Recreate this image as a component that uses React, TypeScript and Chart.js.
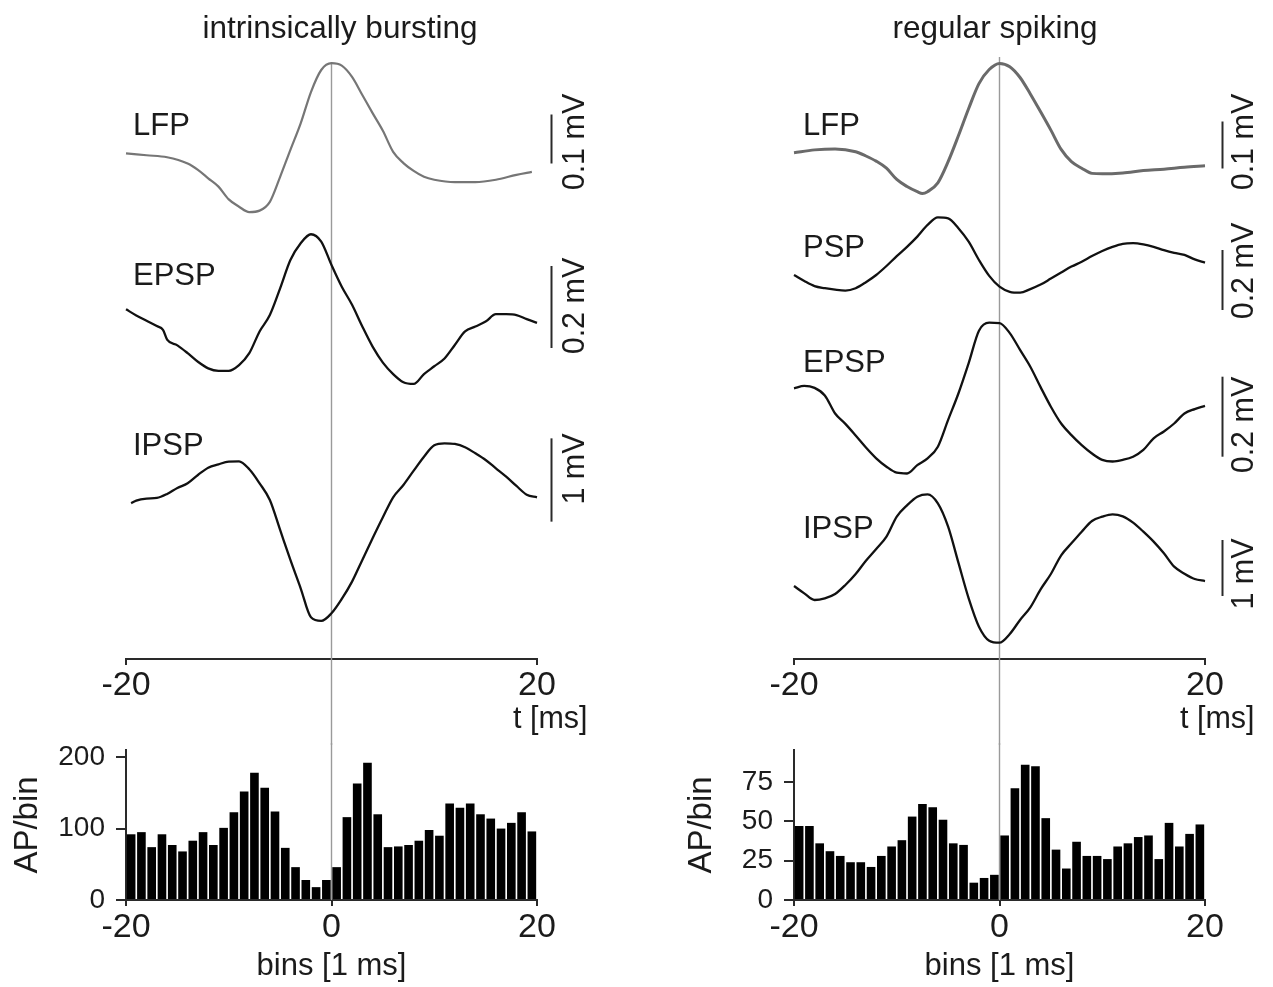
import React, { useEffect, useRef } from "react";
import { Chart, registerables } from "chart.js";

Chart.register(...registerables);

// ---------------- data ----------------
const tMs = [-20, -19, -18, -17, -16, -15, -14, -13, -12, -11, -10, -9, -8, -7, -6, -5, -4, -3, -2, -1, 0, 1, 2, 3, 4, 5, 6, 7, 8, 9, 10, 11, 12, 13, 14, 15, 16, 17, 18, 19, 20];

// intrinsically bursting
const ibLfpT = [-20, -18, -16, -14, -13, -12, -11, -10, -9, -8, -7, -6, -5, -4, -3, -2, -1, 0, 1, 2, 3, 4, 5, 6, 7, 8, 9, 10, 12, 14, 16, 18, 19.5];
const ibLfpV = [0, -0.004, -0.008, -0.021, -0.034, -0.051, -0.068, -0.094, -0.109, -0.12, -0.117, -0.099, -0.048, 0.007, 0.061, 0.125, 0.17, 0.184, 0.179, 0.156, 0.119, 0.082, 0.046, 0.003, -0.02, -0.036, -0.048, -0.054, -0.059, -0.059, -0.054, -0.044, -0.038];

const ibEpspT = [-20, -19, -18, -17, -16.4, -16, -15, -14, -13, -12, -11, -10, -9, -8, -7, -6, -5, -4, -3, -2, -1, 0, 1, 2, 3, 4, 5, 6, 7, 8, 9, 10, 11, 12, 13, 14, 15, 16, 17, 18, 19, 20];
const ibEpspV = [0, -0.015, -0.028, -0.041, -0.05, -0.074, -0.088, -0.107, -0.128, -0.144, -0.15, -0.15, -0.136, -0.107, -0.054, -0.014, 0.051, 0.12, 0.161, 0.183, 0.165, 0.108, 0.055, 0.011, -0.042, -0.091, -0.13, -0.158, -0.178, -0.182, -0.158, -0.139, -0.12, -0.087, -0.054, -0.042, -0.03, -0.012, -0.012, -0.014, -0.024, -0.033];

const ibIpspT = [-19.5, -19, -18, -17, -16, -15, -14, -13, -12, -11, -10, -9, -8, -7, -6, -5, -4, -3, -2, -1, 0, 1, 2, 3, 4, 5, 6, 7, 8, 9, 10, 11, 12, 13, 14, 15, 16, 17, 18, 19, 20];
const ibIpspV = [0, 0.032, 0.056, 0.064, 0.112, 0.184, 0.24, 0.34, 0.428, 0.468, 0.5, 0.504, 0.408, 0.24, 0.04, -0.32, -0.68, -1.02, -1.368, -1.412, -1.32, -1.148, -0.94, -0.68, -0.42, -0.168, 0.072, 0.22, 0.392, 0.56, 0.696, 0.72, 0.712, 0.672, 0.6, 0.52, 0.42, 0.32, 0.208, 0.104, 0.072];

// regular spiking
const rsLfpT = [-20, -18, -16, -14, -13, -12, -11, -10, -9, -8, -7.5, -7, -6, -5, -4, -3, -2, -1, 0, 1, 2, 3, 4, 5, 6, 7, 8, 9, 10, 12, 14, 16, 18, 20];
const rsLfpV = [0, 0.006, 0.008, 0.002, -0.007, -0.018, -0.033, -0.057, -0.072, -0.083, -0.087, -0.083, -0.064, -0.019, 0.036, 0.094, 0.147, 0.177, 0.19, 0.183, 0.16, 0.125, 0.087, 0.048, 0.007, -0.019, -0.033, -0.044, -0.045, -0.043, -0.038, -0.035, -0.031, -0.028];

const rsPspV = [0, -0.02, -0.037, -0.044, -0.049, -0.052, -0.044, -0.024, 0, 0.03, 0.063, 0.094, 0.128, 0.167, 0.192, 0.189, 0.156, 0.111, 0.05, -0.003, -0.039, -0.056, -0.059, -0.047, -0.032, -0.012, 0.008, 0.028, 0.044, 0.063, 0.08, 0.094, 0.104, 0.106, 0.102, 0.094, 0.083, 0.074, 0.067, 0.052, 0.041];

const rsEpspV = [0, 0.006, 0.001, -0.018, -0.063, -0.089, -0.118, -0.148, -0.175, -0.196, -0.211, -0.213, -0.192, -0.175, -0.146, -0.079, -0.013, 0.063, 0.144, 0.164, 0.163, 0.138, 0.096, 0.054, 0.003, -0.046, -0.088, -0.117, -0.142, -0.163, -0.179, -0.183, -0.179, -0.171, -0.154, -0.125, -0.108, -0.088, -0.063, -0.052, -0.044];

const rsIpspV = [0, -0.131, -0.25, -0.22, -0.143, 0.018, 0.214, 0.452, 0.661, 0.881, 1.238, 1.44, 1.595, 1.637, 1.476, 1.06, 0.417, -0.22, -0.726, -0.976, -1.012, -0.857, -0.607, -0.381, -0.06, 0.214, 0.548, 0.762, 0.97, 1.161, 1.238, 1.28, 1.244, 1.131, 0.97, 0.792, 0.583, 0.345, 0.22, 0.125, 0.089];

// histograms (1 ms bins)
const binCenters = [-19.5, -18.5, -17.5, -16.5, -15.5, -14.5, -13.5, -12.5, -11.5, -10.5, -9.5, -8.5, -7.5, -6.5, -5.5, -4.5, -3.5, -2.5, -1.5, -0.5, 0.5, 1.5, 2.5, 3.5, 4.5, 5.5, 6.5, 7.5, 8.5, 9.5, 10.5, 11.5, 12.5, 13.5, 14.5, 15.5, 16.5, 17.5, 18.5, 19.5];
const ibHist = [92, 95, 74, 92, 77, 68, 83, 95, 77, 101, 123, 152, 178, 157, 124, 73, 46, 28, 18, 28, 46, 116, 163, 192, 120, 74, 75, 77, 83, 98, 90, 135, 129, 135, 120, 114, 100, 108, 123, 96];
const rsHist = [47, 47, 36, 31, 28, 24, 24, 21, 28, 34, 38, 53, 61, 59, 51, 36, 35, 11, 14, 16, 41, 71, 86, 85, 52, 32, 20, 37, 28, 28, 26, 34, 36, 40, 41, 26, 49, 34, 42, 48];

// tick labels
const traceTicks = [-20, 20];
const histXTicks = [-20, 0, 20];
const ibHistYTicks = [0, 100, 200];
const rsHistYTicks = [0, 25, 50, 75];

// ---------------- layout / style ----------------
const FONT = "'Liberation Sans', Arial, Helvetica, sans-serif";
const TEXT = "#1b1b1b";
const AXIS = "#2a2a2a";
const GRAY = "#9a9a9a";
const W = 605;
const AREA_L = 126;
const AREA_R = 537;
const TRACE_TOP = 40;
const AXIS_Y = 659;
const TRACE_H = 745;
const HIST_CANVAS_TOP = 700;
const HIST_H = 987 - HIST_CANVAS_TOP;
const HIST_TOP = 750;
const HIST_BOTTOM = 900;
const XTICK_SIZE = 34;
const YTICK_SIZE = 28;

type Trace = {
  name: string; t: number[]; v: number[]; color: string; width: number;
  anchorY: number; pxPerMv: number; bar: number; barText: string;
  barCenterY: number; barTextY: number; nameY: number;
};
type Panel = {
  left: number; title: string; titleX: number; nameX: number; barX: number; barTextX: number;
  tLabelX: number; grayTop: number; apPad: number; traces: Trace[]; hist: number[]; histYTicks: number[]; histMax: number;
};

const panels: Panel[] = [
  {
    left: 0, title: "intrinsically bursting", titleX: 340, nameX: 133, barX: 551.5, barTextX: 576,
    tLabelX: 513, grayTop: 62, apPad: 8, hist: ibHist, histYTicks: ibHistYTicks, histMax: 210,
    traces: [
      { name: "LFP", t: ibLfpT, v: ibLfpV, color: "#767676", width: 2.2, anchorY: 153.3, pxPerMv: 490, bar: 0.1, barText: "0.1 mV", barCenterY: 139, barTextY: 142, nameY: 135 },
      { name: "EPSP", t: ibEpspT, v: ibEpspV, color: "#111", width: 2.3, anchorY: 309.3, pxPerMv: 410, bar: 0.2, barText: "0.2 mV", barCenterY: 307, barTextY: 306, nameY: 285 },
      { name: "IPSP", t: ibIpspT, v: ibIpspV, color: "#111", width: 2.3, anchorY: 503.3, pxPerMv: 83.3, bar: 1, barText: "1 mV", barCenterY: 480, barTextY: 469, nameY: 455 },
    ],
  },
  {
    left: 668, title: "regular spiking", titleX: 327, nameX: 135, barX: 554.5, barTextX: 577,
    tLabelX: 512, grayTop: 57, apPad: 14, hist: rsHist, histYTicks: rsHistYTicks, histMax: 95.3,
    traces: [
      { name: "LFP", t: rsLfpT, v: rsLfpV, color: "#6a6a6a", width: 3, anchorY: 152.7, pxPerMv: 470, bar: 0.1, barText: "0.1 mV", barCenterY: 145, barTextY: 142, nameY: 135 },
      { name: "PSP", t: tMs, v: rsPspV, color: "#111", width: 2.3, anchorY: 275, pxPerMv: 300, bar: 0.2, barText: "0.2 mV", barCenterY: 280, barTextY: 271, nameY: 257 },
      { name: "EPSP", t: tMs, v: rsEpspV, color: "#111", width: 2.3, anchorY: 388.3, pxPerMv: 400, bar: 0.2, barText: "0.2 mV", barCenterY: 416.7, barTextY: 425, nameY: 372 },
      { name: "IPSP", t: tMs, v: rsIpspV, color: "#111", width: 2.3, anchorY: 586, pxPerMv: 56, bar: 1, barText: "1 mV", barCenterY: 568, barTextY: 574, nameY: 538 },
    ],
  },
];

function PanelView({ p }: { p: Panel }) {
  const traceRef = useRef<HTMLCanvasElement | null>(null);
  const histRef = useRef<HTMLCanvasElement | null>(null);

  useEffect(() => {
    const scales: any = {
      x: {
        type: "linear", min: -20, max: 20, position: "bottom",
        afterFit: (s: any) => { s.height = TRACE_H - AXIS_Y; },
        afterBuildTicks: (s: any) => { s.ticks = traceTicks.map((v) => ({ value: v })); },
        grid: { drawOnChartArea: false, drawTicks: true, tickLength: 6, color: AXIS, lineWidth: 2 },
        border: { display: true, color: AXIS, width: 2 },
        ticks: { autoSkip: false, maxRotation: 0, padding: 0, color: TEXT, font: { family: FONT, size: XTICK_SIZE } },
      },
    };
    p.traces.forEach((tr, i) => {
      scales["y" + i] = {
        type: "linear", display: false,
        min: (tr.anchorY - AXIS_Y) / tr.pxPerMv,
        max: (tr.anchorY - TRACE_TOP) / tr.pxPerMv,
      };
    });

    const tracePlugin = {
      id: "traceDecor",
      beforeDatasetsDraw(chart: any) {
        const ctx = chart.ctx;
        const x0 = chart.scales.x.getPixelForValue(0);
        ctx.save();
        ctx.strokeStyle = GRAY;
        ctx.lineWidth = 1.4;
        ctx.beginPath();
        ctx.moveTo(x0, p.grayTop);
        ctx.lineTo(x0, chart.height);
        ctx.stroke();
        ctx.restore();
      },
      afterDraw(chart: any) {
        const ctx = chart.ctx;
        ctx.save();
        ctx.fillStyle = TEXT;
        ctx.font = `31.5px ${FONT}`;
        ctx.textAlign = "center";
        ctx.textBaseline = "alphabetic";
        ctx.fillText(p.title, p.titleX, 38);
        ctx.font = `31px ${FONT}`;
        ctx.textAlign = "left";
        p.traces.forEach((tr, i) => {
          ctx.fillText(tr.name, p.nameX, tr.nameY);
          const ys = chart.scales["y" + i];
          const cv = ys.getValueForPixel(tr.barCenterY);
          const yTop = ys.getPixelForValue(cv + tr.bar / 2);
          const yBot = ys.getPixelForValue(cv - tr.bar / 2);
          ctx.strokeStyle = AXIS;
          ctx.lineWidth = 2;
          ctx.beginPath();
          ctx.moveTo(p.barX, yTop);
          ctx.lineTo(p.barX, yBot);
          ctx.stroke();
          ctx.save();
          ctx.font = `30.5px ${FONT}`;
          ctx.translate(p.barTextX, tr.barTextY);
          ctx.rotate(-Math.PI / 2);
          ctx.textAlign = "center";
          ctx.textBaseline = "middle";
          ctx.fillText(tr.barText, 0, 0);
          ctx.restore();
        });
        ctx.font = `30.5px ${FONT}`;
        ctx.textAlign = "left";
        ctx.textBaseline = "middle";
        ctx.fillText("t [ms]", p.tLabelX, 720);
        ctx.restore();
      },
    };

    const traceChart = new Chart(traceRef.current as HTMLCanvasElement, {
      type: "line",
      data: {
        datasets: p.traces.map((tr, i) => ({
          label: tr.name,
          data: tr.t.map((t, j) => ({ x: t, y: tr.v[j] })),
          yAxisID: "y" + i,
          borderColor: tr.color,
          borderWidth: tr.width,
          pointRadius: 0,
          fill: false,
          cubicInterpolationMode: "monotone",
          clip: false,
        })),
      } as any,
      options: {
        responsive: false,
        animation: false,
        events: [],
        layout: { padding: { left: AREA_L, right: W - AREA_R, top: TRACE_TOP, bottom: 0 } },
        plugins: { legend: { display: false }, tooltip: { enabled: false } },
        scales,
      } as any,
      plugins: [tracePlugin],
    });

    const histPlugin = {
      id: "histDecor",
      beforeDatasetsDraw(chart: any) {
        const ctx = chart.ctx;
        const x0 = chart.scales.x.getPixelForValue(0);
        ctx.save();
        ctx.strokeStyle = GRAY;
        ctx.lineWidth = 1.4;
        ctx.beginPath();
        ctx.moveTo(x0, TRACE_H - HIST_CANVAS_TOP - 2);
        ctx.lineTo(x0, chart.chartArea.bottom);
        ctx.stroke();
        ctx.restore();
      },
    };

    const histChart = new Chart(histRef.current as HTMLCanvasElement, {
      type: "bar",
      data: {
        datasets: [{
          data: binCenters.map((x, i) => ({ x, y: p.hist[i] })),
          backgroundColor: "#000",
          borderWidth: 0,
          barPercentage: 0.84,
          categoryPercentage: 1,
        }],
      } as any,
      options: {
        responsive: false,
        animation: false,
        events: [],
        layout: { padding: { left: 0, right: W - AREA_R, top: HIST_TOP - HIST_CANVAS_TOP, bottom: 0 } },
        plugins: { legend: { display: false }, tooltip: { enabled: false } },
        scales: {
          x: {
            type: "linear", min: -20, max: 20, offset: false,
            afterFit: (s: any) => { s.height = 987 - HIST_BOTTOM; },
            afterBuildTicks: (s: any) => { s.ticks = histXTicks.map((v) => ({ value: v })); },
            grid: { offset: false, drawOnChartArea: false, drawTicks: true, tickLength: 6, color: AXIS, lineWidth: 2 },
            border: { display: true, color: AXIS, width: 2 },
            ticks: { autoSkip: false, maxRotation: 0, padding: 1, color: TEXT, font: { family: FONT, size: XTICK_SIZE } },
            title: { display: true, text: "bins [1 ms]", color: TEXT, font: { family: FONT, size: 31 }, padding: { top: 0, bottom: 2 } },
          },
          y: {
            type: "linear", min: 0, max: p.histMax, position: "left",
            afterFit: (s: any) => { s.width = AREA_L; },
            afterBuildTicks: (s: any) => { s.ticks = p.histYTicks.map((v) => ({ value: v })); },
            grid: { drawOnChartArea: false, drawTicks: true, tickLength: 10, color: AXIS, lineWidth: 2 },
            border: { display: true, color: AXIS, width: 2 },
            ticks: { autoSkip: false, padding: 11, color: TEXT, font: { family: FONT, size: YTICK_SIZE } },
            title: { display: true, text: "AP/bin", color: TEXT, font: { family: FONT, size: 33 }, padding: { top: p.apPad, bottom: 0 } },
          },
        },
      } as any,
      plugins: [histPlugin],
    });

    return () => {
      traceChart.destroy();
      histChart.destroy();
    };
  }, [p]);

  return (
    <>
      <canvas
        ref={traceRef}
        width={W}
        height={TRACE_H}
        style={{ position: "absolute", left: p.left, top: 0, width: W, height: TRACE_H }}
      />
      <canvas
        ref={histRef}
        width={W}
        height={HIST_H}
        style={{ position: "absolute", left: p.left, top: HIST_CANVAS_TOP, width: W, height: HIST_H }}
      />
    </>
  );
}

export default function App() {
  return (
    <div style={{ position: "absolute", left: 0, top: 0, width: 1273, height: 987, background: "#fff", overflow: "hidden" }}>
      {panels.map((p) => (
        <PanelView key={p.title} p={p} />
      ))}
    </div>
  );
}
